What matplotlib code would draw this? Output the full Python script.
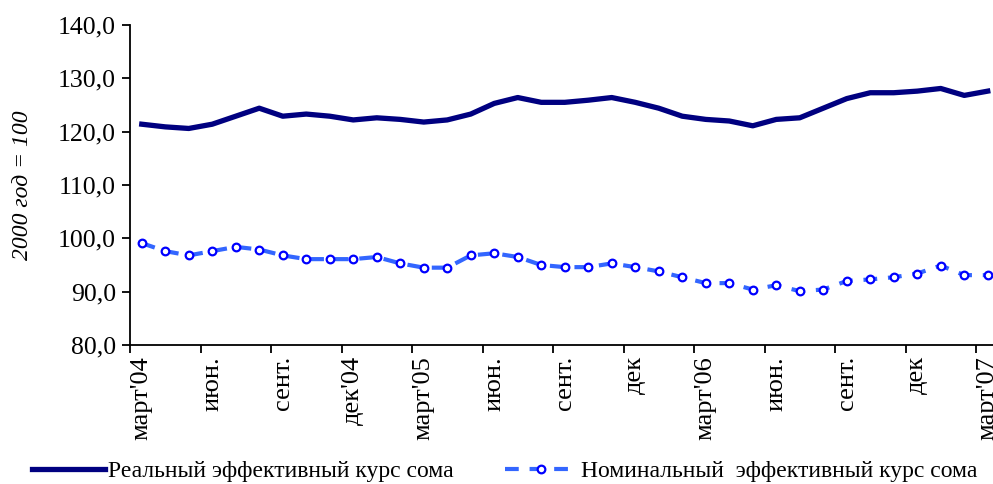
import matplotlib
matplotlib.use("Agg")
import matplotlib.pyplot as plt
from matplotlib.ticker import FixedLocator, FuncFormatter

plt.rcParams['font.family'] = ['Liberation Serif', 'DejaVu Serif']

# monthly data, March 2004 .. March 2007 (37 months)
real = [121.4, 120.9, 120.6, 121.4, 122.9, 124.4, 122.9, 123.3, 122.9, 122.2,
        122.6, 122.3, 121.8, 122.2, 123.3, 125.3, 126.4, 125.5, 125.5, 125.9,
        126.4, 125.5, 124.4, 122.9, 122.3, 122.0, 121.1, 122.3, 122.6, 124.4,
        126.2, 127.3, 127.3, 127.6, 128.1, 126.8, 127.6]
nominal = [99.1, 97.6, 96.8, 97.6, 98.4, 97.9, 96.8, 96.1, 96.1, 96.1,
           96.5, 95.3, 94.5, 94.5, 96.8, 97.2, 96.5, 95.0, 94.6, 94.6,
           95.3, 94.6, 93.8, 92.7, 91.6, 91.6, 90.4, 91.2, 90.1, 90.4,
           92.0, 92.3, 92.7, 93.4, 94.9, 93.1, 93.1]
tick_labels = ["март'04", "июн.", "сент.", "дек'04", "март'05", "июн.", "сент.",
               "дек", "март'06", "июн.", "сент.", "дек", "март'07"]
legend_labels = ["Реальный эффективный курс сома",
                 "Номинальный  эффективный курс сома"]

x = list(range(len(real)))

fig = plt.figure(figsize=(9.93, 4.84), dpi=100)
ax = fig.add_axes([130/993, 139/484, 863/993, 320/484])

ax.plot(x, real, color="#000080", lw=3.8, solid_joinstyle="round",
        label=legend_labels[0])
ax.plot(x, nominal, color="#3366FF", lw=3.0, dashes=(3.3, 2.6),
        marker="o", ms=5.5, mfc="white", mec="#0000FF", mew=1.6,
        label=legend_labels[1])

ax.set_ylim(80, 140)
ax.set_yticks(range(80, 141, 10))
ax.yaxis.set_major_formatter(FuncFormatter(lambda v, p: f"{v:.1f}".replace(".", ",")))
ax.set_xlim(-0.5, -0.5 + 863/23.5)

ax.xaxis.set_major_locator(FixedLocator(list(range(0, 37, 3))))
ax.set_xticklabels(tick_labels, rotation=90, va="top", ha="center")
ax.xaxis.set_minor_locator(FixedLocator([i - 0.5 for i in range(0, 37, 3)]))
ax.tick_params(axis="x", which="major", length=0, pad=8, labelsize=19)
ax.tick_params(axis="x", which="minor", length=6, width=1.3, direction="out")
ax.tick_params(axis="y", length=6, width=1.3, direction="out", pad=4, labelsize=18.5)

for s in ["top", "right"]:
    ax.spines[s].set_visible(False)
for s in ["left", "bottom"]:
    ax.spines[s].set_linewidth(1.3)

ax.set_ylabel("2000 год = 100", fontsize=17, style="italic")
ax.yaxis.set_label_coords(-0.112, 0.5)

fig.legend(loc="lower left", bbox_to_anchor=(18/993, -0.025), ncol=2,
           frameon=False, fontsize=17, handlelength=3.1, handletextpad=0.12,
           columnspacing=2.15, borderaxespad=0.2)

fig.savefig("out.png", dpi=100)
